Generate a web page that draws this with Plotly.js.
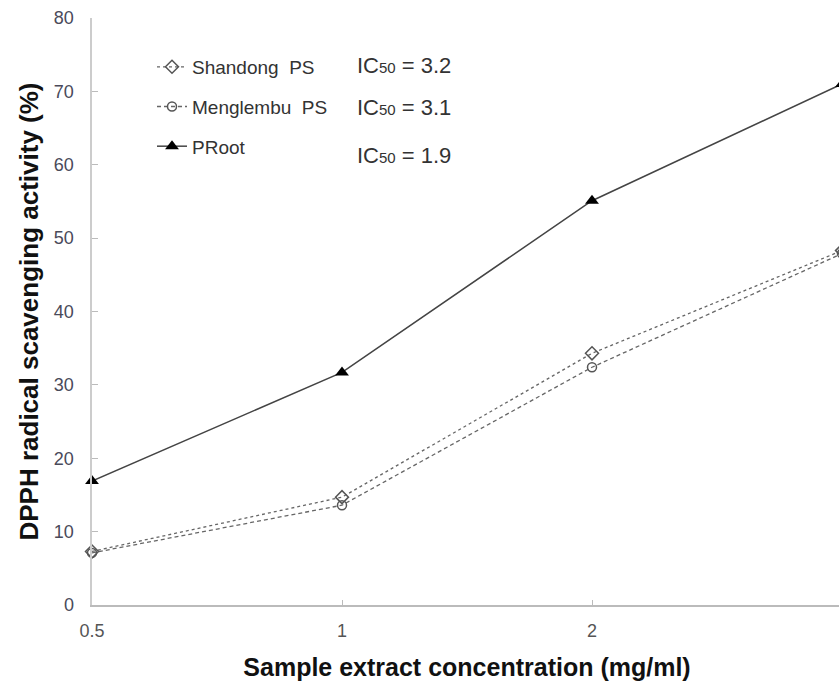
<!DOCTYPE html>
<html>
<head>
<meta charset="utf-8">
<script src="https://cdn.plot.ly/plotly-3.0.1.min.js"></script>
<style>html,body{margin:0;padding:0;overflow:hidden;background:#fff;}</style>
</head>
<body>
<div id="chart"></div>
<script>
var concentrations = ["0.5", "1", "2", "3"];
var shandongPS = [7.3, 14.7, 34.3, 48.3];
var menglembuPS = [7.1, 13.6, 32.4, 47.9];
var pRoot = [16.9, 31.7, 55.1, 71.0];
var seriesNames = ["Shandong\u00a0 PS", "Menglembu\u00a0 PS", "PRoot"];
var ic50Values = ["3.2", "3.1", "1.9"];
var yTicks = [0, 10, 20, 30, 40, 50, 60, 70, 80];

var xIdx = concentrations.map(function(c, i){ return i; });

var traces = [
  {x: xIdx, y: shandongPS, name: seriesNames[0], mode: 'lines+markers', legendgroup: 'a',
   line: {color: '#666', width: 1.3, dash: 'dot'},
   marker: {symbol: 'diamond-open', size: 10, color: '#555', line: {width: 1.5}}, cliponaxis: false},
  {x: xIdx, y: menglembuPS, name: seriesNames[1], mode: 'lines+markers', legendgroup: 'b',
   line: {color: '#666', width: 1.3, dash: '4px,3px'},
   marker: {symbol: 'circle-open', size: 9, color: '#555', line: {width: 1.5}}, cliponaxis: false},
  {x: xIdx, y: pRoot, name: seriesNames[2], mode: 'lines+markers', legendgroup: 'c',
   line: {color: '#444', width: 1.5},
   marker: {symbol: 'triangle-up', size: 12, color: '#000'}, cliponaxis: false}
];

var layout = {
  width: 845, height: 687,
  margin: {l: 92, r: 3, t: 18, b: 82},
  paper_bgcolor: '#fff', plot_bgcolor: '#fff',
  font: {family: 'Liberation Sans, Arial, sans-serif', color: '#333'},
  showlegend: true,
  legend: {x: 0.08, y: 0.949, xanchor: 'left', yanchor: 'top', bgcolor: 'rgba(0,0,0,0)',
           font: {size: 19, color: '#333'}, tracegroupgap: 12, itemwidth: 30},
  xaxis: {
    range: [0, 3], tickvals: xIdx, ticktext: concentrations,
    showgrid: false, zeroline: false, showline: true, linecolor: '#bbb', linewidth: 1.5,
    ticks: 'inside', ticklen: 5, tickcolor: '#bbb', ticklabelstandoff: 9,
    tickfont: {size: 18, color: '#555'},
    title: {text: '<b>Sample extract concentration (mg/ml)</b>', font: {size: 25, color: '#111'}, standoff: 18}
  },
  yaxis: {
    range: [0, 80], tickvals: yTicks,
    showgrid: false, zeroline: false, showline: true, linecolor: '#ccc', linewidth: 2.5,
    ticks: 'inside', ticklen: 6, tickcolor: '#bbb', ticklabelstandoff: 12,
    tickfont: {size: 18, color: '#4a4a5a'},
    title: {text: '<b>DPPH radical scavenging activity (%)</b>', font: {size: 26, color: '#111'}, standoff: 8}
  },
  annotations: ic50Values.map(function(v, i){
    var ys = [0.919, 0.847, 0.765];
    return {text: "IC<span style='font-size:15px'>50</span> = " + v, xref: 'paper', yref: 'paper',
            x: 0.35, y: ys[i], xanchor: 'left', yanchor: 'middle',
            showarrow: false, font: {size: 22, color: '#333'}};
  })
};

Plotly.newPlot('chart', traces, layout, {displayModeBar: false, staticPlot: true});
</script>
</body>
</html>
